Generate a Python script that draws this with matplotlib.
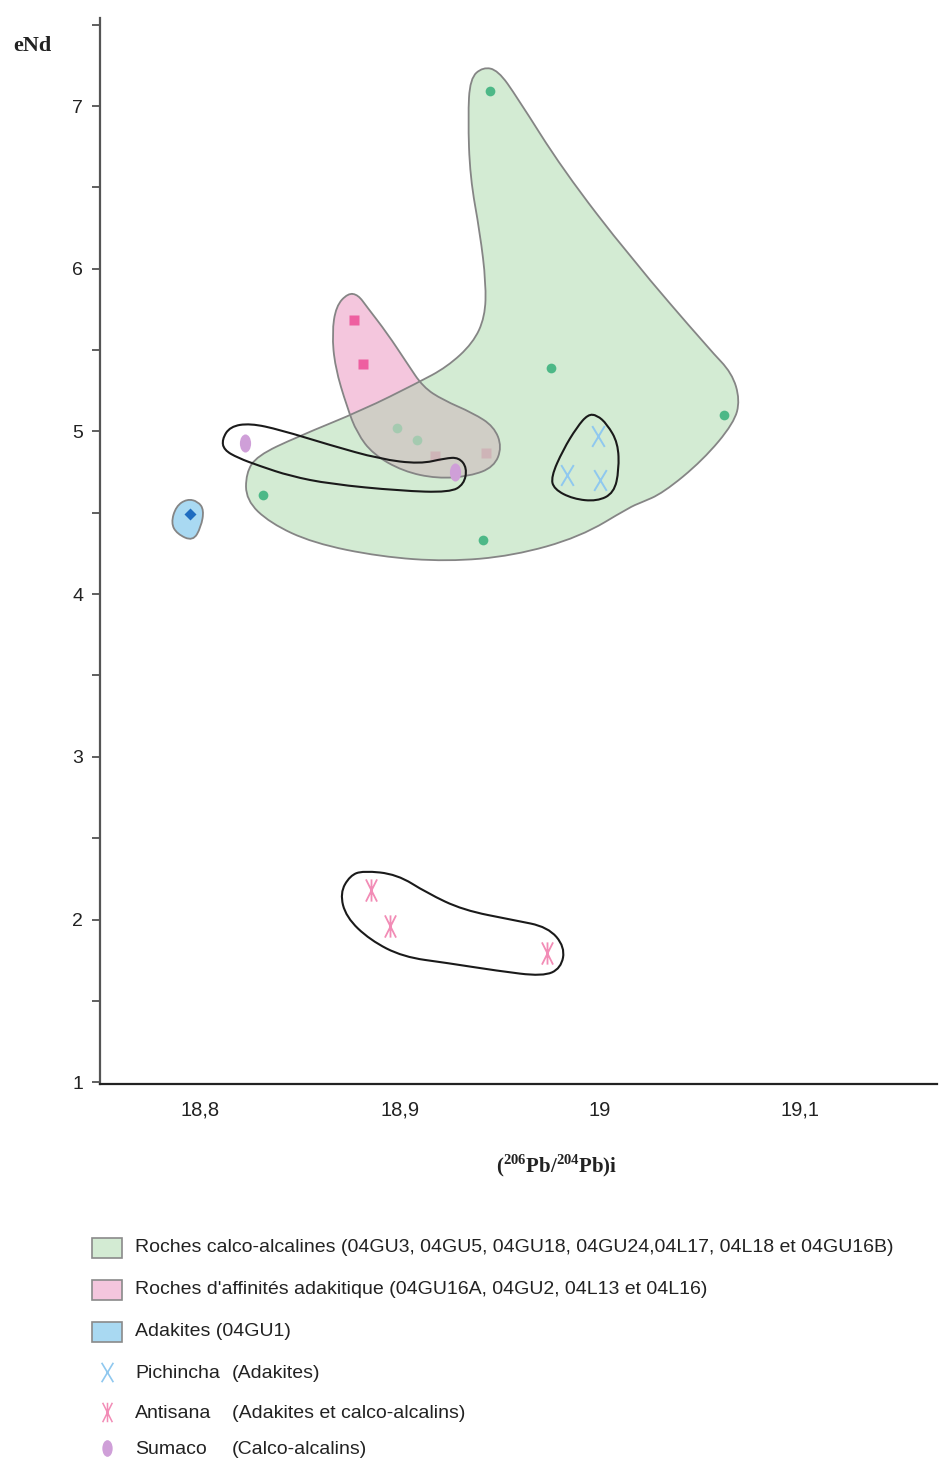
import numpy as np
import matplotlib
matplotlib.use('Agg')
import matplotlib.pyplot as plt
from matplotlib.path import Path
from matplotlib.patches import PathPatch, Rectangle


# Sample points (eNd vs 206Pb/204Pb initial)
calc_x = [18.945, 18.9755, 19.062, 18.8315, 18.9415, 18.8985, 18.9085]
calc_y = [7.09, 5.39, 5.10, 4.61, 4.33, 5.02, 4.95]

adak_x = [18.877, 18.8815, 18.9175, 18.943]
adak_y = [5.685, 5.415, 4.85, 4.87]

adakite_x = [18.795]
adakite_y = [4.49]

pichincha_x = [18.999, 18.9835, 19.0]
pichincha_y = [4.97, 4.73, 4.70]

antisana_x = [18.8855, 18.895, 18.9735]
antisana_y = [2.18, 1.96, 1.795]

sumaco_x = [18.8225, 18.9275]
sumaco_y = [4.93, 4.75]

# Field envelopes (control points)
env_calc_x = [18.9415, 18.935, 18.934, 18.935, 18.940, 18.943, 18.9425, 18.9365,
              18.9235, 18.9085, 18.8815, 18.8485, 18.8285, 18.823, 18.823, 18.835,
              18.8565, 18.89, 18.9235, 18.9565, 18.99, 19.015, 19.02, 19.0315,
              19.0515, 19.067, 19.070, 19.066, 19.055, 19.015, 18.9815, 18.9585,
              18.949]
env_calc_y = [7.24, 7.17, 6.932, 6.564, 6.219, 5.912, 5.703, 5.543,
              5.396, 5.297, 5.132, 4.966, 4.850, 4.744, 4.578, 4.437,
              4.314, 4.230, 4.200, 4.235, 4.351, 4.535, 4.560, 4.621,
              4.824, 5.052, 5.193, 5.359, 5.500, 6.072, 6.607, 7.055,
              7.22]

env_adak_x = [18.874, 18.8680, 18.8660, 18.8675, 18.8735, 18.8785, 18.8865, 18.9015,
              18.9185, 18.935, 18.9470, 18.951, 18.9470, 18.9365, 18.9215, 18.9115,
              18.9035, 18.8935, 18.8835, 18.879]
env_adak_y = [5.85, 5.77, 5.605, 5.396, 5.150, 4.990, 4.860, 4.755,
              4.710, 4.725, 4.781, 4.904, 5.030, 5.113, 5.193, 5.273,
              5.420, 5.605, 5.765, 5.84]

env_adakite_x = [18.7935, 18.7880, 18.7855, 18.7885, 18.7965, 18.8005, 18.8020, 18.7990]
env_adakite_y = [4.585, 4.540, 4.437, 4.370, 4.325, 4.412, 4.517, 4.570]

env_sumaco_x = [18.8110, 18.8150, 18.8250, 18.8400, 18.8650, 18.8900, 18.9100, 18.9225,
                18.9295, 18.9335, 18.9320, 18.9250, 18.9000, 18.8650, 18.8450, 18.8300,
                18.8190, 18.8120]
env_sumaco_y = [4.950, 5.030, 5.050, 5.010, 4.916, 4.830, 4.800, 4.835,
                4.840, 4.775, 4.675, 4.625, 4.635, 4.677, 4.726, 4.787,
                4.837, 4.886]

env_pich_x = [18.9940, 18.9885, 18.9815, 18.9755, 18.9770, 18.9865, 18.9985, 19.0070,
              19.0095, 19.0090, 19.0035, 18.9985]
env_pich_y = [5.105, 5.027, 4.886, 4.720, 4.645, 4.585, 4.570, 4.622,
              4.763, 4.929, 5.045, 5.100]

env_anti_x = [18.8750, 18.8815, 18.8985, 18.9135, 18.9315, 18.9565, 18.9740, 18.9825,
              18.9805, 18.9715, 18.9485, 18.9235, 18.9015, 18.8850, 18.8730, 18.8700]
env_anti_y = [2.270, 2.300, 2.278, 2.163, 2.058, 1.997, 1.954, 1.831,
              1.700, 1.650, 1.685, 1.733, 1.770, 1.874, 2.015, 2.163]

xtick_vals = [18.8, 18.9, 19.0, 19.1]
xtick_labels = ['18,8', '18,9', '19', '19,1']
ytick_vals = [1, 2, 3, 4, 5, 6, 7]

legend_labels = [
    'Roches calco-alcalines (04GU3, 04GU5, 04GU18, 04GU24,04L17, 04L18 et 04GU16B)',
    "Roches d'affinités adakitique (04GU16A, 04GU2, 04L13 et 04L16)",
    'Adakites (04GU1)',
]
legend_names = ['Pichincha', 'Antisana', 'Sumaco']
legend_notes = ['(Adakites)', '(Adakites et calco-alcalins)', '(Calco-alcalins)']

c_green = '#d3ebd3'
c_pink = '#f4c6dd'
c_blue = '#a9d9f2'
c_edge = '#858585'


def smooth_path(xs, ys):
    pts = np.column_stack([xs, ys])
    mids = (pts + np.roll(pts, -1, axis=0)) / 2
    verts = [mids[-1]]
    codes = [Path.MOVETO]
    for i in range(len(pts)):
        verts += [pts[i], mids[i]]
        codes += [Path.CURVE3, Path.CURVE3]
    return Path(verts, codes)


# custom markers
x_marker = Path([(-0.6, -1), (0.6, 1), (0.6, -1), (-0.6, 1)],
                [Path.MOVETO, Path.LINETO, Path.MOVETO, Path.LINETO])
ast_marker = Path([(-0.5, -1), (0.5, 1), (0.5, -1), (-0.5, 1), (0, -1), (0, 1)],
                  [Path.MOVETO, Path.LINETO, Path.MOVETO, Path.LINETO, Path.MOVETO, Path.LINETO])
circ = Path.unit_circle()
oval_marker = Path(circ.vertices * np.array([0.62, 1.0]), circ.codes)


fig = plt.figure(figsize=(9.39, 14.59), dpi=100)
ax = fig.add_axes([100/939, 1 - 1084/1459, 837/939, 1066/1459])
ax.set_xlim(18.75, 19.1685)
ax.set_ylim(0.989, 7.541)

# fills
p_calc = smooth_path(env_calc_x, env_calc_y)
p_adak = smooth_path(env_adak_x, env_adak_y)
p_adakite = smooth_path(env_adakite_x, env_adakite_y)

green_patch = PathPatch(p_calc, facecolor=c_green, edgecolor='none', zorder=1)
ax.add_patch(green_patch)
ax.add_patch(PathPatch(p_adak, facecolor=c_pink, edgecolor='none', zorder=2))
ax.add_patch(PathPatch(p_adakite, facecolor=c_blue, edgecolor='none', zorder=2))

# sample points
ax.plot(calc_x, calc_y, 'o', color='#4db887', ms=7, mec='none', zorder=3)
ax.plot(adak_x, adak_y, 's', color='#ee5fa0', ms=7, mec='none', zorder=3)
ax.plot(adakite_x, adakite_y, 'D', color='#1f6cc0', ms=6, mec='none', zorder=3)

# overlap of the two fields
overlap = PathPatch(p_adak, facecolor='#c4d1bf', edgecolor='none', alpha=0.75, zorder=4)
ax.add_patch(overlap)
overlap.set_clip_path(green_patch)

# envelope edges
for p in [p_calc, p_adak, p_adakite]:
    ax.add_patch(PathPatch(p, facecolor='none', edgecolor=c_edge, lw=1.3, zorder=5))

# volcano outlines
for ex, ey in [(env_sumaco_x, env_sumaco_y), (env_pich_x, env_pich_y), (env_anti_x, env_anti_y)]:
    ax.add_patch(PathPatch(smooth_path(ex, ey), facecolor='none', edgecolor='#1a1a1a', lw=1.5, zorder=6))

ax.plot(pichincha_x, pichincha_y, ls='none', marker=x_marker, ms=15, mew=1.4,
        color='#8fc8ef', zorder=7)
ax.plot(antisana_x, antisana_y, ls='none', marker=ast_marker, ms=16, mew=1.3,
        color='#f28cb6', zorder=7)
ax.plot(sumaco_x, sumaco_y, ls='none', marker=oval_marker, ms=13, mec='none',
        color='#cf9fd8', zorder=7)

# axes styling
for s in ['top', 'right']:
    ax.spines[s].set_visible(False)
ax.spines['left'].set_color('#555555')
ax.spines['left'].set_linewidth(1.6)
ax.spines['bottom'].set_color('#222222')
ax.spines['bottom'].set_linewidth(1.6)

ax.set_yticks(ytick_vals)
ax.set_yticks(np.arange(1.5, 7.6, 1.0), minor=True)
ax.set_yticklabels([str(v) for v in ytick_vals], fontsize=14, family='Liberation Sans', color='#222222')
ax.tick_params(axis='y', which='both', direction='out', length=6, width=1.2, color='#444444', pad=6)
ax.set_xticks(xtick_vals)
ax.set_xticklabels(xtick_labels, fontsize=14.5, family='Liberation Sans', color='#222222')
ax.tick_params(axis='x', length=0, pad=12)

fig.text(32/939, 1 - 46/1459, 'eNd', fontsize=16, fontweight='bold', family='Liberation Serif',
         ha='center', va='center', color='#222222')

plt.rcParams['mathtext.fontset'] = 'custom'
plt.rcParams['mathtext.bf'] = 'Liberation Serif:bold'
plt.rcParams['mathtext.rm'] = 'Liberation Serif:bold'
fig.text(557/939, 1 - 1166/1459, r'$(^{206}\mathrm{Pb}/^{204}\mathrm{Pb})\mathrm{i}$', fontsize=15,
         ha='center', va='center', color='#222222')

# legend (drawn in figure pixels)
lax = fig.add_axes([0, 0, 1, 1], facecolor='none')
lax.set_xlim(0, 939)
lax.set_ylim(1459, 0)
lax.axis('off')

leg_font = 'Liberation Sans'
row_y = [1248, 1290, 1332, 1372, 1412, 1448]
for yy, col, lab in zip(row_y[:3], [c_green, c_pink, c_blue], legend_labels):
    lax.add_patch(Rectangle((92, yy - 10), 30, 20, facecolor=col, edgecolor='#8a8a8a', lw=1.2))
    lax.text(135, yy, lab, fontsize=14, family=leg_font, va='center', color='#222222')

lax.plot([107], [row_y[3]], ls='none', marker=x_marker, ms=14, mew=1.2, color='#8fc8ef')
lax.plot([107], [row_y[4]], ls='none', marker=ast_marker, ms=14, mew=1.1, color='#f28cb6')
lax.plot([107], [row_y[5]], ls='none', marker=oval_marker, ms=12, mec='none', color='#cf9fd8')
for yy, nm, note in zip(row_y[3:], legend_names, legend_notes):
    lax.text(135, yy + 1, nm, fontsize=14, family=leg_font, va='center', color='#222222')
    lax.text(232, yy + 1, note, fontsize=14, family=leg_font, va='center', color='#222222')

fig.savefig('out.png', dpi=100)
